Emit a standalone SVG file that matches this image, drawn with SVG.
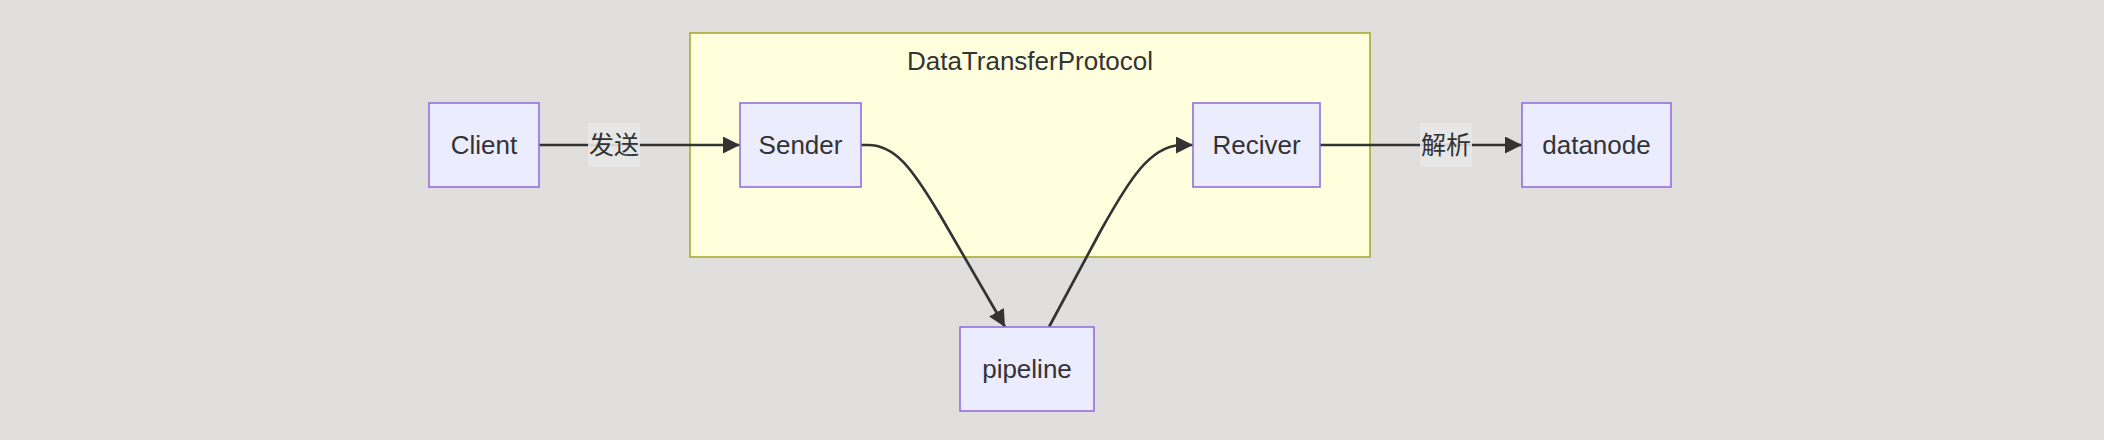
<svg xmlns="http://www.w3.org/2000/svg" width="2104" height="440" viewBox="0 0 2104 440">
<style>
.node rect{fill:#ececff;stroke:#9370db;stroke-width:1.6}
.lbl{font-family:"Liberation Sans","Noto Sans CJK SC",sans-serif;font-size:26px;fill:#333;text-anchor:middle}
.cjk{font-family:"Noto Sans CJK SC","Liberation Sans",sans-serif;font-size:25px;fill:#333;text-anchor:middle}
.edge{fill:none;stroke:#333;stroke-width:2.7}
.elbg{fill:#e8e8e8;opacity:0.9}
</style>
<defs>
<marker id="arr" viewBox="0 0 10 10" refX="10" refY="5" markerUnits="userSpaceOnUse" markerWidth="17" markerHeight="17" orient="auto">
<path d="M0,0 L10,5 L0,10 z" fill="#333"/>
</marker>
</defs>
<rect width="2104" height="440" fill="#e0dfde"/>
<g id="cluster-DataTransferProtocol">
<rect x="690" y="33" width="680" height="224" fill="#ffffde" stroke="#aaaa33" stroke-width="1.6"/>
<text class="lbl" x="1030" y="70">DataTransferProtocol</text>
</g>
<g id="connectors">
<path class="edge" d="M538.5,145 L740,145" marker-end="url(#arr)"/>
<path class="edge" d="M861,145 L868,145 C895,145 912,168 940,215 L1005,327" marker-end="url(#arr)"/>
<path class="edge" d="M1049,327 L1100,232 C1130,178 1150,147 1180,145 L1193,145" marker-end="url(#arr)"/>
<path class="edge" d="M1320,145 L1522,145" marker-end="url(#arr)"/>
<rect class="elbg" x="588" y="123" width="52" height="44"/>
<text class="cjk" x="614" y="154">发送</text>
<rect class="elbg" x="1420" y="123" width="52" height="44"/>
<text class="cjk" x="1446" y="154">解析</text>
</g>
<g id="Client" class="node">
<rect x="429" y="103" width="110" height="84"/>
<text class="lbl" x="484" y="154">Client</text>
</g>
<g id="Sender" class="node">
<rect x="740" y="103" width="121" height="84"/>
<text class="lbl" x="800.5" y="154">Sender</text>
</g>
<g id="Reciver" class="node">
<rect x="1193" y="103" width="127" height="84"/>
<text class="lbl" x="1256.5" y="154">Reciver</text>
</g>
<g id="datanode" class="node">
<rect x="1522" y="103" width="149" height="84"/>
<text class="lbl" x="1596.5" y="154">datanode</text>
</g>
<g id="pipeline" class="node">
<rect x="960" y="327" width="134" height="84"/>
<text class="lbl" x="1027" y="378">pipeline</text>
</g>
</svg>
